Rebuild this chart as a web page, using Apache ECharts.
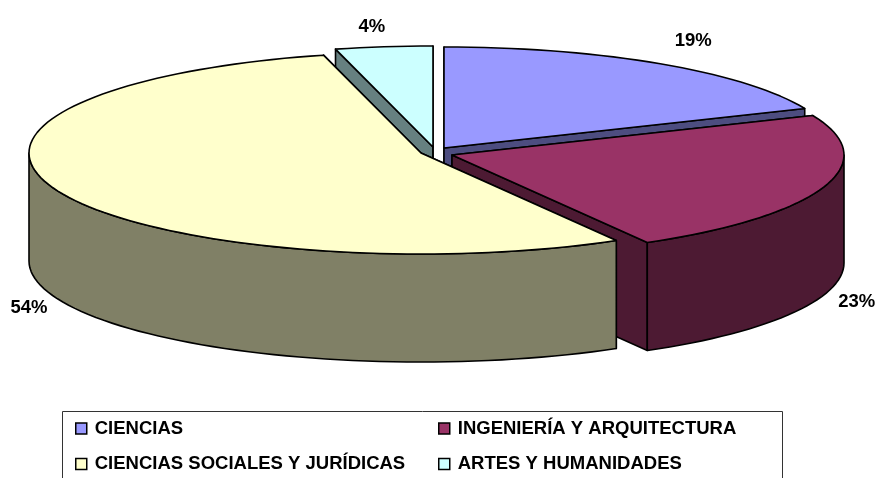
<!DOCTYPE html>
<html>
<head>
<meta charset="utf-8">
<style>html,body{margin:0;padding:0;background:#fff}#c{width:877px;height:478px}</style>
<script src="https://cdn.jsdelivr.net/npm/echarts@6/dist/echarts.min.js"></script>
</head>
<body>
<div id="c"></div>
<script>
const categories = ['CIENCIAS', 'INGENIERÍA Y ARQUITECTURA', 'CIENCIAS SOCIALES Y JURÍDICAS', 'ARTES Y HUMANIDADES'];
const values = [18.6, 23.1, 54.3, 4.0];
const topColors = ['#9999FF', '#993366', '#FFFFCC', '#CCFFFF'];
const wallColors = ['#4D4D80', '#4D1A33', '#808066', '#668080'];

// 3D projection layout
const radiusX = 392, radiusY = 101, depth = 108;
const sliceCenters = [[444, 148], [452, 155], [421, 153], [433, 147]];
const labelOffsets = [[33, -23], [33, 115], [-29, 117], [-12, -20]];
const drawOrder = [0, 3, 1, 2];
const FONT = '"Liberation Sans", Arial, sans-serif';
const STROKE = 1.6;

const total = values.reduce((a, b) => a + b, 0);
function sliceAngles(i) {
  let s = 0;
  for (let k = 0; k < i; k++) s += values[k];
  return [s / total * 360, (s + values[i]) / total * 360];
}
function pt(c, deg, dy) {
  const r = deg * Math.PI / 180;
  return [c[0] + radiusX * Math.sin(r), c[1] - radiusY * Math.cos(r) + (dy || 0)];
}
function arc(c, a, b, dy) {
  const n = Math.max(2, Math.ceil((b - a) / 2)), out = [];
  for (let i = 0; i <= n; i++) out.push(pt(c, a + (b - a) * i / n, dy));
  return out;
}
function poly(points, fill) {
  return { type: 'polygon', shape: { points }, style: { fill, stroke: '#000', lineWidth: STROKE, lineJoin: 'round' } };
}
function makeRender(i) {
  return function () {
    const c = sliceCenters[i], [a, b] = sliceAngles(i), kids = [];
    const wall = wallColors[i];
    for (const t of [a, b]) {
      const p = pt(c, t);
      kids.push(poly([c, p, [p[0], p[1] + depth], [c[0], c[1] + depth]], wall));
    }
    const fa = Math.max(a, 90), fb = Math.min(b, 270);
    if (fb > fa) {
      kids.push(poly(arc(c, fa, fb, 0).concat(arc(c, fa, fb, depth).reverse()), wall));
    }
    kids.push(poly([c].concat(arc(c, a, b, 0)), topColors[i]));
    const m = pt(c, (a + b) / 2);
    kids.push({
      type: 'text',
      style: {
        text: Math.round(values[i]) + '%',
        x: m[0] + labelOffsets[i][0], y: m[1] + labelOffsets[i][1],
        fill: '#000', fontFamily: FONT, fontWeight: 'bold', fontSize: 18.5,
        align: 'center', verticalAlign: 'middle'
      }
    });
    return { type: 'group', children: kids };
  };
}
const series = categories.map((name, i) => ({
  type: 'custom',
  name,
  coordinateSystem: 'none',
  z: 2 + drawOrder.indexOf(i),
  silent: true,
  itemStyle: { color: topColors[i] },
  data: [{ name, value: values[i] }],
  renderItem: makeRender(i)
}));
function legendOf(idx, left) {
  return {
    orient: 'vertical', left, top: 418, itemWidth: 11, itemHeight: 11, itemGap: 14.5,
    selectedMode: false, padding: 0, icon: 'rect',
    textStyle: { fontFamily: FONT, fontWeight: 'bold', fontSize: 18.5, color: '#000', padding: [0, 0, 0, 3], lineHeight: 21 },
    data: idx.map(k => ({ name: categories[k], icon: 'rect', itemStyle: { color: topColors[k], borderColor: '#000', borderWidth: 1.5 } }))
  };
}
const chart = echarts.init(document.getElementById('c'), null, { renderer: 'canvas' });
chart.setOption({
  animation: false,
  backgroundColor: '#fff',
  legend: [legendOf([0, 2], 75), legendOf([1, 3], 438)],
  graphic: [{
    type: 'rect', z: 1, silent: true,
    shape: { x: 62.5, y: 411.5, width: 720, height: 90 },
    style: { fill: '#fff', stroke: '#333', lineWidth: 1 }
  }],
  series
});
</script>
</body>
</html>
